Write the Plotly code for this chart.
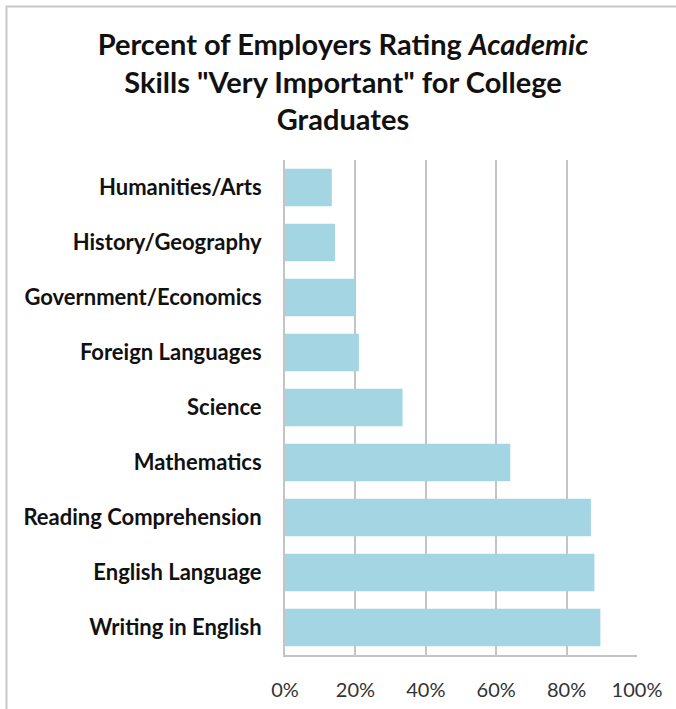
import plotly.graph_objects as go

skills = ["Writing in English", "English Language", "Reading Comprehension", "Mathematics",
          "Science", "Foreign Languages", "Government/Economics", "History/Geography",
          "Humanities/Arts"]
percent = [0.896, 0.879, 0.869, 0.640, 0.334, 0.210, 0.199, 0.142, 0.133]
x_ticks = [0, 0.2, 0.4, 0.6, 0.8, 1.0]
x_tick_labels = ["0%", "20%", "40%", "60%", "80%", "100%"]

W, H = 676, 709
fig = go.Figure(go.Bar(
    x=percent, y=skills, orientation="h",
    marker=dict(color="#a3d5e3", line=dict(width=0)),
))

# outer frame (decorative) in paper coordinates
pl = lambda px: (px - 285) / 352
pt = lambda py: (655 - py) / 495
frame_path = "M {:.4f},{:.4f} L {:.4f},{:.4f} L {:.4f},{:.4f}".format(
    pl(6.5), pt(709), pl(6.5), pt(6.5), pl(676), pt(6.5))

font_family = "Lato, 'Open Sans', sans-serif"
fig.update_layout(
    width=W, height=H,
    margin=dict(l=285, r=39, t=160, b=54, pad=0),
    paper_bgcolor="white", plot_bgcolor="white",
    bargap=0.32,
    showlegend=False,
    title=dict(
        text="<b>Percent of Employers Rating <i>Academic</i><br>Skills \"Very Important\" for College<br>Graduates</b>",
        x=343 / W, xanchor="center", xref="container",
        y=1 - 55 / H, yanchor="top", yref="container",
        font=dict(family=font_family, size=29, color="#111111"),
    ),
    xaxis=dict(
        range=[0, 1.0], tickvals=x_ticks, ticktext=x_tick_labels,
        showgrid=True, gridcolor="#c4c4c4", gridwidth=2,
        showline=True, linecolor="#c4c4c4", linewidth=2,
        zeroline=False, ticks="", ticklabelstandoff=16, automargin=False,
        tickfont=dict(family=font_family, size=20, color="#333333"),
        fixedrange=True,
    ),
    yaxis=dict(
        showgrid=False, showline=True, linecolor="#c4c4c4", linewidth=2,
        ticks="", ticklabelstandoff=17, automargin=False,
        tickfont=dict(family=font_family, size=22, color="#111111", weight="bold"),
        fixedrange=True,
    ),
    shapes=[
        dict(type="path", xref="paper", yref="paper", path=frame_path,
             line=dict(color="#c8c8c8", width=2)),
    ],
)

fig.write_html("out.html", config={"displayModeBar": False})
